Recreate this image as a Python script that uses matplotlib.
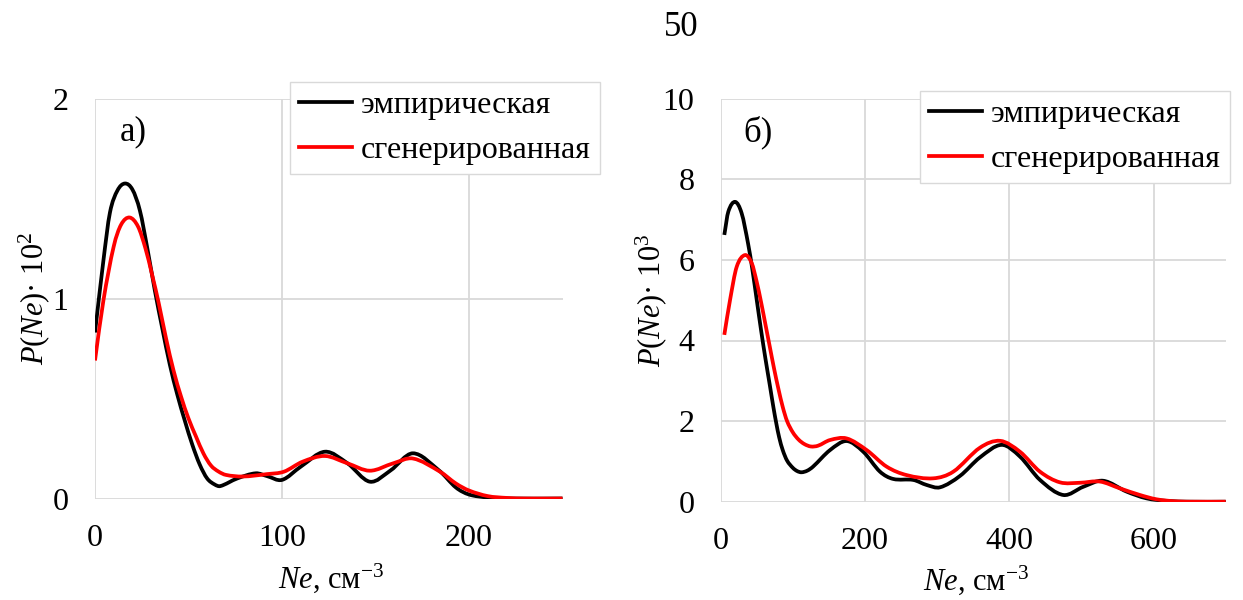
import matplotlib
matplotlib.use("Agg")
import matplotlib.pyplot as plt
from matplotlib.path import Path
from matplotlib.patches import PathPatch

plt.rcParams['font.family'] = ['Liberation Serif', 'DejaVu Serif']
plt.rcParams['mathtext.fontset'] = 'custom'
plt.rcParams['mathtext.rm'] = 'Liberation Serif'
plt.rcParams['mathtext.it'] = 'Liberation Serif:italic'

# ---- data: panel а) ----
ne_a_emp = [0, 4.5, 8, 12, 16, 20, 24, 28, 32, 36, 40, 44, 48, 52, 56, 60, 64, 67, 76, 86,
            92, 100, 110, 123, 135, 147, 158, 170, 184, 193, 200, 210, 220, 250]
p_a_emp = [0.83, 1.19, 1.43, 1.54, 1.575, 1.545, 1.44, 1.25, 1.04, 0.85, 0.67, 0.52, 0.39,
           0.27, 0.17, 0.10, 0.07, 0.062, 0.10, 0.126, 0.112, 0.093, 0.159, 0.234, 0.176,
           0.084, 0.14, 0.226, 0.14, 0.055, 0.02, 0.005, 0.0, 0.0]
ne_a_gen = [0, 4.5, 10, 14, 18.5, 23, 27, 30.5, 34, 38, 42, 46, 50, 54, 58, 62, 66, 70, 79,
            92, 101, 111, 123, 135, 147, 159.5, 170, 184.5, 193, 200, 210, 220, 230, 250]
p_a_gen = [0.69, 0.99, 1.26, 1.37, 1.405, 1.36, 1.25, 1.12, 0.98, 0.80, 0.64, 0.51, 0.40,
           0.31, 0.225, 0.165, 0.135, 0.118, 0.11, 0.122, 0.134, 0.184, 0.2125, 0.176, 0.139,
           0.176, 0.20, 0.134, 0.075, 0.04, 0.012, 0.003, 0.0, 0.0]

# ---- data: panel б) ----
ne_b_emp = [5, 10.6, 20, 29, 38, 44, 50, 56, 62, 68, 73, 77, 81, 86, 92, 100, 106, 112, 120,
            128, 151.5, 174.6, 197.6, 220.8, 239, 267, 285.5, 304, 331.7, 359.4, 389.5, 414.8,
            442.6, 475, 502.6, 530, 562.7, 590, 618, 650, 700]
p_b_emp = [6.62, 7.2, 7.44, 7.16, 6.4, 5.75, 5.0, 4.25, 3.55, 2.9, 2.35, 1.95, 1.6, 1.28,
           1.02, 0.84, 0.76, 0.73, 0.77, 0.87, 1.28, 1.505, 1.24, 0.745, 0.565, 0.54, 0.415,
           0.357, 0.64, 1.1, 1.41, 1.12, 0.54, 0.166, 0.37, 0.52, 0.25, 0.084, 0.02, 0.0, 0.0]
ne_b_gen = [5, 12.9, 22.2, 33.7, 43, 50, 56, 62, 68, 74, 80, 86, 92, 100, 108, 116, 125, 135,
            151.5, 174.6, 202.4, 230, 257.8, 294.7, 322.4, 359.4, 387.4, 414.8, 442.6, 470.3,
            498, 525.7, 553.5, 581.2, 604, 630, 660, 700]
p_b_gen = [4.14, 5.0, 5.83, 6.12, 5.92, 5.45, 4.95, 4.4, 3.85, 3.3, 2.8, 2.35, 2.0, 1.72,
           1.54, 1.43, 1.37, 1.39, 1.53, 1.57, 1.28, 0.87, 0.66, 0.58, 0.745, 1.34, 1.51,
           1.24, 0.745, 0.48, 0.47, 0.50, 0.33, 0.166, 0.06, 0.01, 0.0, 0.0]

labels = ['эмпирическая', 'сгенерированная']
xticks_a = [0, 100, 200]
yticks_a = [0, 1, 2]
xticks_b = [0, 200, 400, 600]
yticks_b = [0, 2, 4, 6, 8, 10]

W, H = 1243, 600
fig = plt.figure(figsize=(W / 100, H / 100), dpi=100)

grid_c = '#d9d9d9'
fs_tick = 23
fs_lab = 22
fs_leg = 23
LW = 2.7


def smooth_line(ax, xs, ys, color):
    """Draw a smoothed line (like a spreadsheet 'smoothed line') through the read points."""
    n = len(xs)
    slopes = []
    for i in range(n):
        a = max(i - 1, 0)
        b = min(i + 1, n - 1)
        slopes.append((ys[b] - ys[a]) / (xs[b] - xs[a]))
    verts = [(xs[0], ys[0])]
    codes = [Path.MOVETO]
    for i in range(n - 1):
        dx = (xs[i + 1] - xs[i]) / 3.0
        verts += [(xs[i] + dx, ys[i] + slopes[i] * dx),
                  (xs[i + 1] - dx, ys[i + 1] - slopes[i + 1] * dx),
                  (xs[i + 1], ys[i + 1])]
        codes += [Path.CURVE4] * 3
    patch = PathPatch(Path(verts, codes), fill=False, edgecolor=color, lw=LW,
                      capstyle='butt', joinstyle='round', zorder=3)
    ax.add_patch(patch)
    handle, = ax.plot([], [], color=color, lw=LW)
    return handle


def style(ax, xt, yt, xmax, ymax):
    ax.set_xlim(0, xmax)
    ax.set_ylim(0, ymax)
    ax.set_xticks(xt)
    ax.set_yticks(yt)
    for s in ax.spines.values():
        s.set_visible(False)
    ax.grid(True, color=grid_c, linewidth=1.3)
    ax.set_axisbelow(True)
    ax.tick_params(length=0, labelsize=fs_tick, pad=19)
    ax.tick_params(axis='x', pad=18)


def legend(handles, x0, ytop):
    fig.legend(handles, labels, loc='upper left', bbox_to_anchor=(x0 / W, 1 - ytop / H),
               fontsize=fs_leg, frameon=True, fancybox=False, edgecolor=grid_c,
               borderaxespad=0, handlelength=1.65, handletextpad=0.3, labelspacing=0.48,
               borderpad=0.28, framealpha=1)


ax1 = fig.add_axes([95 / W, 1 - 498.5 / H, 467.5 / W, 400 / H])
style(ax1, xticks_a, yticks_a, 250, 2)
l1 = smooth_line(ax1, ne_a_emp, p_a_emp, 'black')
l2 = smooth_line(ax1, ne_a_gen, p_a_gen, '#ff0000')
ax1.set_ylabel(r'$P(Ne)$· 10$^{2}$', fontsize=fs_lab, va='center')
ax1.yaxis.set_label_coords(-0.13, 0.5)
ax1.set_xlabel(r'$Ne$, см$^{-3}$', fontsize=fs_lab, va='center')
ax1.xaxis.set_label_coords(0.505, -0.2)
ax1.text(0.081, 0.916, 'а)', transform=ax1.transAxes, fontsize=25, ha='center', va='center')
legend([l1, l2], 290, 82)

ax2 = fig.add_axes([720.7 / W, 1 - 501.7 / H, 505 / W, 403 / H])
style(ax2, xticks_b, yticks_b, 700, 10)
m1 = smooth_line(ax2, ne_b_emp, p_b_emp, 'black')
m2 = smooth_line(ax2, ne_b_gen, p_b_gen, '#ff0000')
ax2.set_ylabel(r'$P(Ne)$· 10$^{3}$', fontsize=fs_lab, va='center')
ax2.yaxis.set_label_coords(-0.138, 0.5)
ax2.set_xlabel(r'$Ne$, см$^{-3}$', fontsize=fs_lab, va='center')
ax2.xaxis.set_label_coords(0.505, -0.194)
ax2.text(0.074, 0.917, 'б)', transform=ax2.transAxes, fontsize=25, ha='center', va='center')
legend([m1, m2], 920, 91)

fig.text(681 / W, 1 - 27 / H, '50', fontsize=25, ha='center', va='center')

fig.savefig('out.png', dpi=100)
